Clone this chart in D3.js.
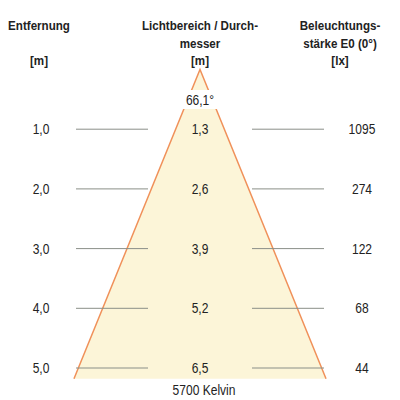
<!DOCTYPE html>
<html>
<head>
<meta charset="utf-8">
<script src="https://cdn.jsdelivr.net/npm/d3@7"></script>
<style>
  body { margin: 0; background: #fff; }
  text { font-family: "Liberation Sans", Arial, sans-serif; fill: #222; }
</style>
</head>
<body>
<svg id="viewer" width="400" height="400"></svg>
<script>
// data
var distances = [1.0, 2.0, 3.0, 4.0, 5.0];
var diameters = [1.3, 2.6, 3.9, 5.2, 6.5];
var illuminance = [1095, 274, 122, 68, 44];
var beamAngle = 66.1;
var maxDepth = 5.18;
var colorTemp = "5700 Kelvin";

var headLeft = ["Entfernung", "", "[m]"];
var headMid = ["Lichtbereich / Durch-", "messer", "[m]"];
var headRight = ["Beleuchtungs-", "stärke E0 (0°)", "[lx]"];

var fmt = d => d.toFixed(1).replace(".", ",");
var squeeze = 0.86;

var svg = d3.select('#viewer');

var y = d3.scaleLinear()
        .domain([0, 5])
        .range([69.5, 368]);

var x = d3.scaleLinear()
        .domain([-3.3, 3.3])
        .range([200 - 123.4, 200 + 123.4]);

var half = d => d * Math.tan(beamAngle / 2 * Math.PI / 180);

// narrow text, placed by its centre
function label(sel, cx, cy, size, weight) {
    return sel.append("text")
        .attr("transform", `translate(${cx} ${cy}) scale(${squeeze} 1)`)
        .attr("text-anchor", "middle")
        .attr("font-size", size)
        .attr("font-weight", weight || "normal");
}

// cone
var cone = [[0, 0], [-half(maxDepth), maxDepth], [half(maxDepth), maxDepth]];

svg.append("path")
    .attr("d", d3.line().x(d => x(d[0])).y(d => y(d[1]))(cone) + "Z")
    .attr("fill", "#fcf5d8");

svg.append("path")
    .attr("d", d3.line().x(d => x(d[0])).y(d => y(d[1]))([cone[1], cone[0], cone[2]]))
    .attr("fill", "none")
    .attr("stroke", "#f0915a")
    .attr("stroke-width", 1.5);

// headers
function header(lines, cx) {
    lines.forEach((d, i) => {
        label(svg, cx, 30 + i * 17.5, 13.5, "bold").text(d);
    });
}
header(headLeft, 39);
header(headMid, 200);
header(headRight, 340);

// angle label
svg.append("rect")
    .attr("x", 183).attr("y", 90)
    .attr("width", 34).attr("height", 19)
    .attr("fill", "#fff");

label(svg, 200, 105, 14).text(fmt(beamAngle) + "°");

// rows
var rows = svg.append("g").selectAll("g")
    .data(distances)
    .enter()
    .append("g")
    .attr("transform", d => `translate(0 ${y(d)})`);

rows.append("line")
    .attr("x1", 76).attr("x2", 148)
    .attr("stroke", "#8a8f88").attr("stroke-width", 1);

rows.append("line")
    .attr("x1", 252).attr("x2", 324)
    .attr("stroke", "#8a8f88").attr("stroke-width", 1);

rows.each(function(d, i) {
    var g = d3.select(this);
    label(g, 41, 5, 14).text(fmt(d));
    label(g, 200, 5, 14).text(fmt(diameters[i]));
    label(g, 362, 5, 14).text(illuminance[i]);
});

label(svg, 204, 395, 14).text(colorTemp);
</script>
</body>
</html>
